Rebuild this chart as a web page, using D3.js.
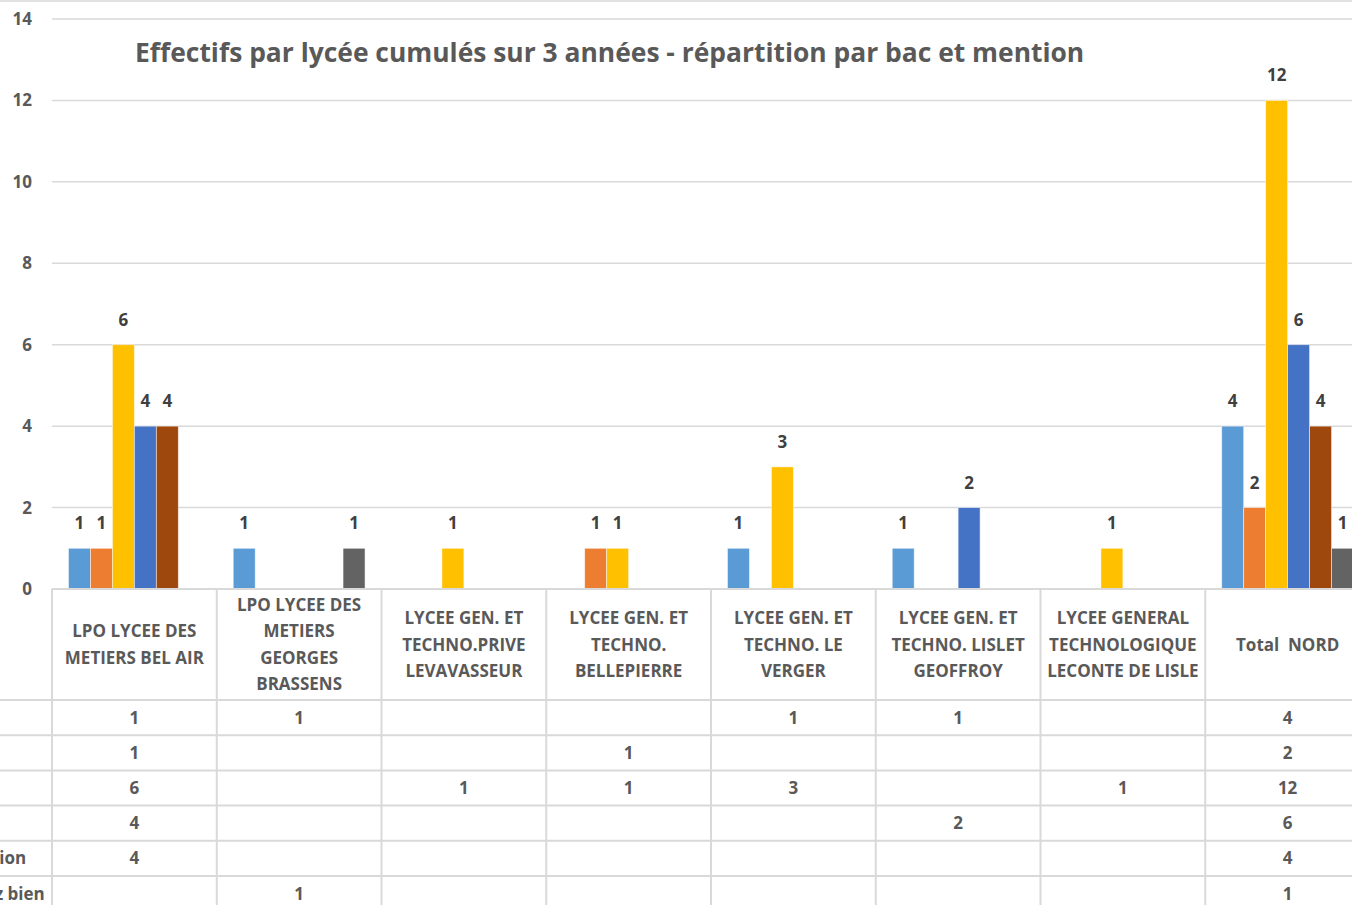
<!DOCTYPE html>
<html>
<head>
<meta charset="utf-8">
<script src="https://cdn.jsdelivr.net/npm/d3@7/dist/d3.min.js"></script>
<style>
  html, body { margin: 0; padding: 0; background: #fff; overflow: hidden; }
  svg { display: block; }
  text { font-family: "Open Sans", "Noto Sans", sans-serif; font-weight: bold; }
</style>
</head>
<body>
<svg id="chart" width="1352" height="905"></svg>
<script>
// ---------- DATA ----------
const title = "Effectifs par lycée cumulés sur 3 années - répartition par bac et mention";
const categories = [
  "LPO LYCEE DES METIERS BEL AIR",
  "LPO LYCEE DES METIERS GEORGES BRASSENS",
  "LYCEE GEN. ET TECHNO.PRIVE LEVAVASSEUR",
  "LYCEE GEN. ET TECHNO. BELLEPIERRE",
  "LYCEE GEN. ET TECHNO. LE VERGER",
  "LYCEE GEN. ET TECHNO. LISLET GEOFFROY",
  "LYCEE GENERAL TECHNOLOGIQUE LECONTE DE LISLE",
  "Total  NORD"
];
const categoryLines = [
  ["LPO LYCEE DES", "METIERS BEL AIR"],
  ["LPO LYCEE DES", "METIERS", "GEORGES", "BRASSENS"],
  ["LYCEE GEN. ET", "TECHNO.PRIVE", "LEVAVASSEUR"],
  ["LYCEE GEN. ET", "TECHNO.", "BELLEPIERRE"],
  ["LYCEE GEN. ET", "TECHNO. LE", "VERGER"],
  ["LYCEE GEN. ET", "TECHNO. LISLET", "GEOFFROY"],
  ["LYCEE GENERAL", "TECHNOLOGIQUE", "LECONTE DE LISLE"],
  ["Total\u00a0\u00a0NORD"]
];
const seriesNames = [
  "Bac général Bien",
  "Bac techno Bien",
  "Bac pro Bien",
  "Bac pro Très bien",
  "Bac pro sans mention",
  "Bac général - Assez bien"
];
const seriesColors = ["#5B9BD5", "#ED7D31", "#FFC000", "#4472C4", "#9E480E", "#636363"];
const s1 = [1, 1, null, null, 1, 1, null, 4];
const s2 = [1, null, null, 1, null, null, null, 2];
const s3 = [6, null, 1, 1, 3, null, 1, 12];
const s4 = [4, null, null, null, null, 2, null, 6];
const s5 = [4, null, null, null, null, null, null, 4];
const s6 = [null, 1, null, null, null, null, null, 1];
const seriesValues = [s1, s2, s3, s4, s5, s6];
const yTicks = [0, 2, 4, 6, 8, 10, 12, 14];

// ---------- LAYOUT ----------
const svg = d3.select("#chart");
const W = 1352, H = 905;
const plotLeft = 52, plotRight = 1370, plotTop = 19, plotBottom = 589;
const headerBottom = 700, rowH = 35.2;
const gridColor = "#d9d9d9";
const textColor = "#595959";
const labelColor = "#404040";
const fs = "17px";

const x0 = d3.scaleBand().domain(d3.range(categories.length)).range([plotLeft, plotRight]).padding(0);
const bw = x0.bandwidth();
const x1 = d3.scaleBand().domain(d3.range(seriesNames.length)).range([bw * 0.1, bw * 0.9]).padding(0);
const y = d3.scaleLinear().domain([0, 14]).range([plotBottom, plotTop]);

// chart border at top
svg.append("line").attr("x1", 0).attr("x2", W).attr("y1", 1).attr("y2", 1)
  .attr("stroke", gridColor).attr("stroke-width", 1.5);

// gridlines
svg.append("g").selectAll("line").data(yTicks.filter(d => d > 0)).join("line")
  .attr("x1", plotLeft).attr("x2", plotRight)
  .attr("y1", d => y(d)).attr("y2", d => y(d))
  .attr("stroke", gridColor).attr("stroke-width", 1.5);

// y axis labels
const yAxis = d3.axisLeft(y).tickValues(yTicks).tickSize(0).tickPadding(0);
const gy = svg.append("g").attr("transform", "translate(32,0)").call(yAxis);
gy.select(".domain").remove();
gy.selectAll("text").attr("fill", textColor).style("font-size", fs)
  .style("font-family", "'Open Sans', sans-serif").style("font-weight", "bold");

// title
const t = svg.append("text").text(title).attr("x", 135).attr("y", 62)
  .attr("fill", textColor).style("font-size", "26px");
const tw = t.node().getComputedTextLength();
t.style("font-size", (26 * 950 / tw) + "px");

// bars
const groups = svg.append("g").selectAll("g").data(categories).join("g")
  .attr("transform", (d, i) => `translate(${x0(i)},0)`);
groups.each(function(cat, ci) {
  const g = d3.select(this);
  const vals = seriesValues.map((s, si) => ({ si, v: s[ci] })).filter(d => d.v != null);
  g.selectAll("rect").data(vals).join("rect")
    .attr("x", d => x1(d.si)).attr("width", x1.bandwidth())
    .attr("y", d => y(d.v)).attr("height", d => y(0) - y(d.v))
    .attr("fill", d => seriesColors[d.si])
    .attr("stroke", "#ffffff").attr("stroke-opacity", 0.6).attr("stroke-width", 0.8);
  g.selectAll("text.lbl").data(vals).join("text").attr("class", "lbl")
    .attr("x", d => x1(d.si) + x1.bandwidth() / 2).attr("y", d => y(d.v) - 19)
    .attr("text-anchor", "middle").attr("fill", labelColor).style("font-size", fs)
    .text(d => d.v);
});

// ---------- DATA TABLE ----------
const tbl = svg.append("g");
tbl.append("line").attr("x1", plotLeft).attr("x2", plotRight).attr("y1", plotBottom).attr("y2", plotBottom)
  .attr("stroke", gridColor).attr("stroke-width", 2);
const rowTops = seriesNames.map((d, i) => headerBottom + i * rowH);
tbl.selectAll("line.row").data(rowTops).join("line").attr("class", "row")
  .attr("x1", 0).attr("x2", plotRight).attr("y1", d => d).attr("y2", d => d)
  .attr("stroke", gridColor).attr("stroke-width", 2);
const vx = d3.range(categories.length + 1).map(i => plotLeft + i * bw);
tbl.selectAll("line.col").data(vx).join("line").attr("class", "col")
  .attr("x1", d => d).attr("x2", d => d).attr("y1", plotBottom).attr("y2", H)
  .attr("stroke", gridColor).attr("stroke-width", 2);

// header labels
const lineH = 26.3;
categoryLines.forEach((lines, ci) => {
  const cx = x0(ci) + bw / 2;
  const cy = (plotBottom + headerBottom) / 2;
  const start = cy - (lines.length - 1) * lineH / 2;
  tbl.append("g").selectAll("text").data(lines).join("text")
    .attr("x", cx).attr("y", (d, i) => start + i * lineH + 6)
    .attr("text-anchor", "middle").attr("fill", textColor).style("font-size", fs)
    .text(d => d);
});

// row labels (left-aligned column whose start lies left of the visible window)
const rl = tbl.append("g").selectAll("text").data(seriesNames).join("text")
  .attr("y", (d, i) => rowTops[i] + rowH / 2 + 6)
  .attr("fill", textColor).style("font-size", fs).text(d => d);
const nodes = rl.nodes();
const w5 = nodes[4].getComputedTextLength();
const w6 = nodes[5].getComputedTextLength();
const startX = ((25 - w5) + (46 - w6)) / 2;
rl.attr("x", startX);

// values
seriesValues.forEach((s, si) => {
  tbl.append("g").selectAll("text").data(s.map((v, ci) => ({ v, ci })).filter(d => d.v != null)).join("text")
    .attr("x", d => x0(d.ci) + bw / 2).attr("y", rowTops[si] + rowH / 2 + 6)
    .attr("text-anchor", "middle").attr("fill", textColor).style("font-size", fs)
    .text(d => d.v);
});
</script>
</body>
</html>
